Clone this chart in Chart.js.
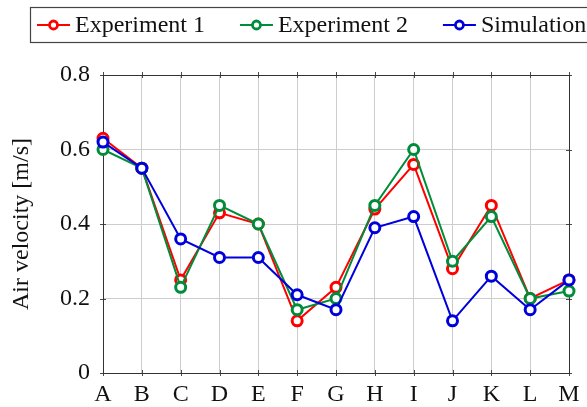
<!DOCTYPE html>
<html>
<head>
<meta charset="utf-8">
<script src="https://cdn.jsdelivr.net/npm/chart.js@4.4.1/dist/chart.umd.min.js"></script>
<style>
  html, body { margin: 0; padding: 0; background: #ffffff; }
  #wrap { width: 587px; height: 407px; }
</style>
</head>
<body>
<div id="wrap"><canvas id="chart" width="587" height="407"></canvas></div>
<script>
// Measurement points along the ventilated room
const categories = ['A', 'B', 'C', 'D', 'E', 'F', 'G', 'H', 'I', 'J', 'K', 'L', 'M'];

// Air velocity in m/s
const experiment1 = [0.63, 0.55, 0.25, 0.43, 0.40, 0.14, 0.23, 0.44, 0.56, 0.28, 0.45, 0.20, 0.25];
const experiment2 = [0.60, 0.55, 0.23, 0.45, 0.40, 0.17, 0.20, 0.45, 0.60, 0.30, 0.42, 0.20, 0.22];
const simulation  = [0.62, 0.55, 0.36, 0.31, 0.31, 0.21, 0.17, 0.39, 0.42, 0.14, 0.26, 0.17, 0.25];

const seriesNames = ['Experiment 1', 'Experiment 2', 'Simulation'];
const yTickLabels = ['0', '0.2', '0.4', '0.6', '0.8'];

const SERIF = "'Liberation Serif', 'DejaVu Serif', 'Times New Roman', serif";
const COLORS = ['#ff0000', '#008c3a', '#0000dc'];

function series(label, data, color, order) {
  return {
    label, data, order,
    borderColor: color,
    backgroundColor: '#ffffff',
    borderWidth: 2,
    tension: 0,
    pointRadius: 5,
    pointHoverRadius: 5,
    pointBorderWidth: 3,
    pointBackgroundColor: '#ffffff',
    pointBorderColor: color
  };
}

// Box around the plot plus small tick marks on all four sides
const framePlugin = {
  id: 'frame',
  beforeDatasetsDraw(chart) {
    const {ctx, chartArea: a, scales: {x, y}} = chart;
    ctx.save();
    ctx.strokeStyle = '#4a4a4a';
    ctx.lineWidth = 1;
    ctx.beginPath();
    y.ticks.forEach(t => {
      const py = Math.round(y.getPixelForValue(t.value)) + 0.5;
      ctx.moveTo(a.left - 3, py); ctx.lineTo(a.left + 3, py);
      ctx.moveTo(a.right - 3, py); ctx.lineTo(a.right + 3, py);
    });
    categories.forEach((c, i) => {
      const px = Math.round(x.getPixelForValue(i)) + 0.5;
      ctx.moveTo(px, a.top - 3); ctx.lineTo(px, a.top + 3);
      ctx.moveTo(px, a.bottom - 3); ctx.lineTo(px, a.bottom + 3);
    });
    ctx.stroke();
    ctx.strokeStyle = '#333333';
    ctx.strokeRect(Math.round(a.left) + 0.5, Math.round(a.top) + 0.5,
                   Math.round(a.right - a.left), Math.round(a.bottom - a.top));
    ctx.restore();
  }
};

// Framed legend row: line segment with an open circle, then the series name
const legendRow = {
  id: 'legendRow',
  afterDraw(chart) {
    const {ctx} = chart;
    ctx.save();
    ctx.strokeStyle = '#444444';
    ctx.lineWidth = 1.2;
    ctx.strokeRect(30.5, 7.5, 620, 35);
    ctx.font = '24px ' + SERIF;
    ctx.textBaseline = 'alphabetic';
    ctx.textAlign = 'left';
    let xPos = 37;
    const cy = 25;
    chart.data.datasets.forEach(ds => {
      ctx.strokeStyle = ds.borderColor;
      ctx.lineWidth = 2;
      ctx.beginPath();
      ctx.moveTo(xPos, cy); ctx.lineTo(xPos + 33, cy);
      ctx.stroke();
      ctx.beginPath();
      ctx.arc(xPos + 16.5, cy, 4, 0, Math.PI * 2);
      ctx.fillStyle = '#ffffff';
      ctx.fill();
      ctx.lineWidth = 2.8;
      ctx.stroke();
      ctx.fillStyle = '#111111';
      const tx = xPos + 38;
      ctx.fillText(ds.label, tx, 32);
      xPos = tx + ctx.measureText(ds.label).width + 35;
    });
    ctx.restore();
  }
};

new Chart(document.getElementById('chart'), {
  type: 'line',
  data: {
    labels: categories,
    datasets: [
      series(seriesNames[0], experiment1, COLORS[0], 3),
      series(seriesNames[1], experiment2, COLORS[1], 2),
      series(seriesNames[2], simulation, COLORS[2], 1)
    ]
  },
  options: {
    responsive: false,
    animation: false,
    events: [],
    layout: { padding: { top: 75, right: 18, bottom: 0, left: 0 } },
    plugins: {
      legend: { display: false },
      tooltip: { enabled: false }
    },
    scales: {
      x: {
        offset: false,
        border: { display: false },
        grid: { color: '#cdcdcd', lineWidth: 1, drawTicks: false },
        ticks: {
          color: '#111111',
          font: { family: SERIF, size: 24 },
          padding: 7,
          maxRotation: 0,
          autoSkip: false
        },
        afterFit(s) { s.height = 34; }
      },
      y: {
        min: 0,
        max: 0.8,
        border: { display: false },
        grid: { color: '#cdcdcd', lineWidth: 1, drawTicks: false },
        ticks: {
          stepSize: 0.1,
          color: '#111111',
          font: { family: SERIF, size: 24 },
          padding: 13,
          callback(value) {
            const tenths = Math.round(value * 10);
            return tenths % 2 === 0 ? yTickLabels[tenths / 2] : null;
          }
        },
        title: {
          display: true,
          text: 'Air velocity [m/s]',
          color: '#111111',
          font: { family: SERIF, size: 24 },
          padding: { top: 7, bottom: 0 }
        },
        afterFit(s) { s.width = 103; }
      }
    }
  },
  plugins: [framePlugin, legendRow]
});
</script>
</body>
</html>
